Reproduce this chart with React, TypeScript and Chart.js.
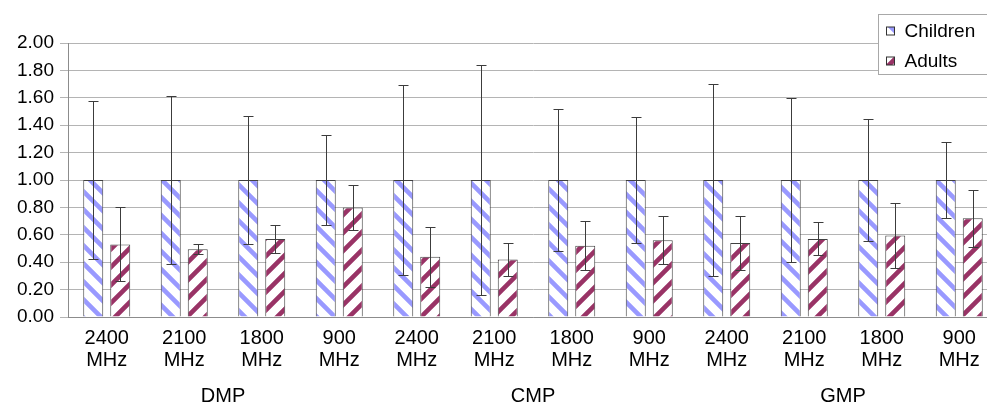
import React, { useEffect, useRef } from 'react';
import { Chart, registerables } from 'chart.js';

Chart.register(...registerables);

// ---- data ----
const groupNames = ['DMP', 'CMP', 'GMP'];
const frequencies = ['2400', '2100', '1800', '900'];
const unitLabel = 'MHz';
const seriesNames = ['Children', 'Adults'];

const childrenMeans = [1.0, 1.0, 1.0, 1.0, 1.0, 1.0, 1.0, 1.0, 1.0, 1.0, 1.0, 1.0];
const childrenErrors = [0.58, 0.61, 0.47, 0.33, 0.69, 0.84, 0.515, 0.46, 0.70, 0.60, 0.445, 0.275];
const adultsMeans = [0.53, 0.495, 0.57, 0.80, 0.44, 0.42, 0.52, 0.56, 0.54, 0.57, 0.595, 0.72];
const adultsErrors = [0.27, 0.035, 0.105, 0.165, 0.22, 0.12, 0.18, 0.175, 0.20, 0.12, 0.24, 0.21];

const yMin = 0;
const yMax = 2;
const yStep = 0.2;

const FONT = "'Liberation Sans', Arial, sans-serif";

function makePattern(color: string, dir: 'down' | 'up'): CanvasPattern | string {
  const P = 18;
  const c = document.createElement('canvas');
  c.width = P;
  c.height = P;
  const ctx = c.getContext('2d');
  if (!ctx) return color;
  ctx.fillStyle = '#ffffff';
  ctx.fillRect(0, 0, P, P);
  ctx.strokeStyle = color;
  ctx.lineWidth = 4.6;
  ctx.beginPath();
  for (let k = -1; k <= 1; k++) {
    if (dir === 'down') {
      ctx.moveTo(k * P - 2, -2);
      ctx.lineTo(k * P + P + 2, P + 2);
    } else {
      ctx.moveTo(k * P - 2, P + 2);
      ctx.lineTo(k * P + P + 2, -2);
    }
  }
  ctx.stroke();
  return ctx.createPattern(c, 'repeat') || color;
}

export default function App() {
  const ref = useRef<HTMLCanvasElement | null>(null);

  useEffect(() => {
    if (!ref.current) return;
    const childPattern = makePattern('#9999ff', 'down');
    const adultPattern = makePattern('#993366', 'up');
    const patterns = [childPattern, adultPattern];
    const errorsBySeries = [childrenErrors, adultsErrors];

    const labels = groupNames.flatMap(() => frequencies.map((f) => [f, unitLabel]));

    const errorBars = {
      id: 'errorBars',
      afterDatasetsDraw(chart: any) {
        const ctx = chart.ctx;
        const ys = chart.scales.y;
        ctx.save();
        ctx.strokeStyle = '#3c3c3c';
        ctx.lineWidth = 1;
        chart.data.datasets.forEach((ds: any, i: number) => {
          const meta = chart.getDatasetMeta(i);
          const errs = errorsBySeries[i];
          meta.data.forEach((bar: any, j: number) => {
            const v = ds.data[j];
            const e = errs[j];
            const x = Math.round(bar.x) + 0.5;
            const top = Math.round(ys.getPixelForValue(v + e)) + 0.5;
            const bot = Math.round(ys.getPixelForValue(v - e)) + 0.5;
            ctx.beginPath();
            ctx.moveTo(x, top);
            ctx.lineTo(x, bot);
            ctx.moveTo(x - 5, top);
            ctx.lineTo(x + 5, top);
            ctx.moveTo(x - 5, bot);
            ctx.lineTo(x + 5, bot);
            ctx.stroke();
          });
        });
        ctx.restore();
      },
    };

    const legendBox = {
      id: 'legendBox',
      afterDraw(chart: any) {
        const ctx = chart.ctx;
        const area = chart.chartArea;
        const left = Math.round(area.right - 120) + 0.5;
        const top = 14.5;
        const w = 140;
        const h = 60;
        ctx.save();
        ctx.fillStyle = '#ffffff';
        ctx.fillRect(left, top, w, h);
        ctx.strokeStyle = '#a8a8a8';
        ctx.lineWidth = 1;
        ctx.strokeRect(left, top, w, h);
        seriesNames.forEach((name, i) => {
          const cy = 31 + i * 30;
          ctx.fillStyle = patterns[i];
          ctx.fillRect(left + 8, cy - 4, 8, 8);
          ctx.strokeStyle = '#333333';
          ctx.strokeRect(left + 8, cy - 4, 8, 8);
          ctx.fillStyle = '#000000';
          ctx.font = `19px ${FONT}`;
          ctx.textBaseline = 'middle';
          ctx.textAlign = 'left';
          ctx.fillText(name, left + 26, cy + 1);
        });
        ctx.restore();
      },
    };

    const chart = new Chart(ref.current, {
      type: 'bar',
      data: {
        labels,
        datasets: [
          {
            label: seriesNames[0],
            data: childrenMeans,
            backgroundColor: childPattern as any,
            borderColor: '#404040',
            borderWidth: 1,
            categoryPercentage: 0.697,
            barPercentage: 0.74,
          },
          {
            label: seriesNames[1],
            data: adultsMeans,
            backgroundColor: adultPattern as any,
            borderColor: '#404040',
            borderWidth: 1,
            categoryPercentage: 0.697,
            barPercentage: 0.74,
          },
        ],
      },
      options: {
        animation: false,
        responsive: true,
        maintainAspectRatio: false,
        layout: { padding: { left: 17, right: 12, top: 43, bottom: 0 } },
        plugins: {
          legend: { display: false },
          tooltip: { enabled: false },
        },
        scales: {
          x: {
            position: 'bottom',
            weight: 0,
            grid: { display: false, drawTicks: false },
            border: { display: true, color: '#8c8c8c' },
            afterFit: (s: any) => {
              s.height = 54;
            },
            ticks: {
              color: '#000',
              padding: 10,
              maxRotation: 0,
              autoSkip: false,
              font: { family: FONT, size: 20, lineHeight: 1.1 },
            },
          },
          x2: {
            type: 'category',
            labels: groupNames,
            position: 'bottom',
            weight: 1,
            offset: true,
            grid: { display: false, drawTicks: false },
            border: { display: false },
            afterFit: (s: any) => {
              s.height = 36;
            },
            ticks: {
              color: '#000',
              padding: 14,
              maxRotation: 0,
              autoSkip: false,
              font: { family: FONT, size: 20, lineHeight: 1.1 },
            },
          },
          y: {
            min: yMin,
            max: yMax,
            grid: { color: '#b4b4b4', tickLength: 8, drawTicks: true },
            border: { display: true, color: '#8c8c8c' },
            afterFit: (s: any) => {
              s.width = 51;
            },
            ticks: {
              stepSize: yStep,
              autoSkip: false,
              color: '#000',
              padding: 6,
              callback: (v: any) => Number(v).toFixed(2),
              font: { family: FONT, size: 19 },
            },
          },
        },
      },
      plugins: [errorBars, legendBox],
    } as any);

    return () => chart.destroy();
  }, []);

  return (
    <div
      style={{
        position: 'fixed',
        left: 0,
        top: 0,
        width: 987,
        height: 407,
        overflow: 'hidden',
        background: '#ffffff',
      }}
    >
      <div style={{ position: 'relative', width: 1010, height: 407 }}>
        <canvas ref={ref} />
      </div>
    </div>
  );
}
